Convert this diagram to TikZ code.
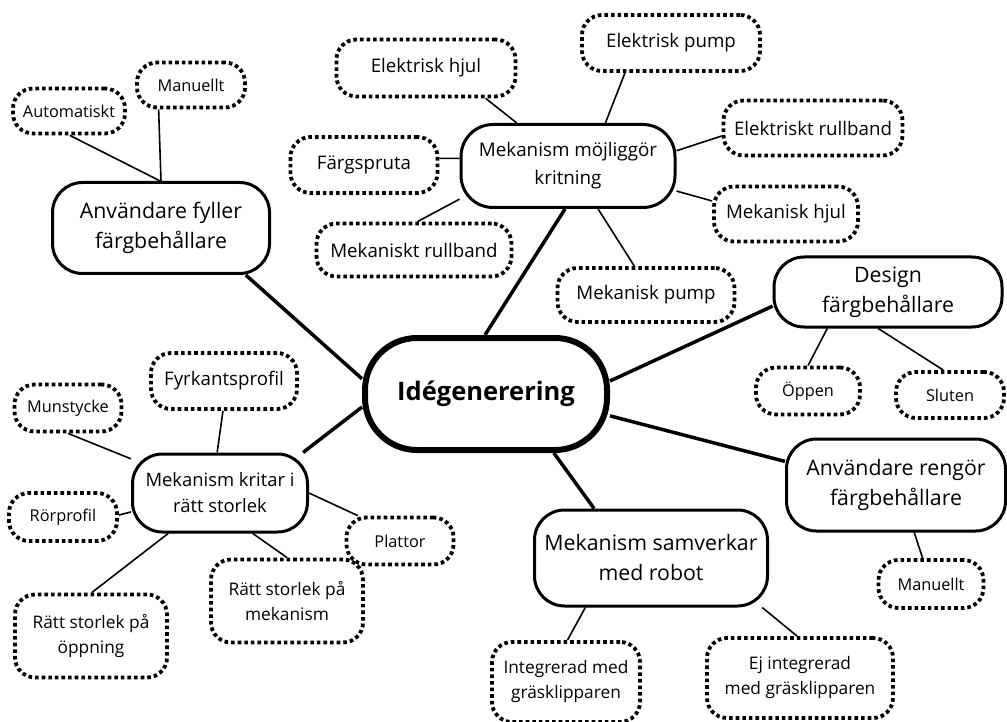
\documentclass[tikz,border=0pt]{standalone}
\usepackage{fontspec}
\setmainfont{Open Sans}
\begin{document}
\begin{tikzpicture}[x=1pt,y=-1pt,
  main/.style={draw, line width=3pt, rounded corners=30pt, align=center, inner sep=0pt, fill=white, font=\fontsize{21.3}{30}\selectfont},
  hub/.style={draw, line width=6pt, rounded corners=52pt, align=center, inner sep=0pt, fill=white, font=\bfseries\fontsize{25.5}{30}\selectfont},
  leaf/.style={draw, line width=3.8pt, dash pattern=on 3.6pt off 3pt, rounded corners=20pt, align=center, inner sep=0pt, fill=white},
  big/.style={font=\fontsize{18.7}{26}\selectfont},
  mid/.style={font=\fontsize{17.3}{25}\selectfont},
  small/.style={font=\fontsize{16.3}{20}\selectfont},
  thick link/.style={line width=3.5pt},
  thin link/.style={line width=1.6pt}
]
\useasboundingbox (0,0) rectangle (1007,722);

% hub
\node[hub, minimum width=242pt, minimum height=112pt] (cen) at (486,394) {Idégenerering};

% main nodes
\node[main, minimum width=214pt, minimum height=83pt, rounded corners=32pt, font=\fontsize{18.8}{28}\selectfont] (moj) at (568,166) {Mekanism möjliggör\\kritning};
\node[main, minimum width=217pt, minimum height=91pt] (fyll) at (161,228) {Användare fyller\\färgbehållare};
\node[main, minimum width=228pt, minimum height=70pt] (des) at (888,292) {Design\\färgbehållare};
\node[main, minimum width=219pt, minimum height=92pt] (ren) at (896,485) {Användare rengör\\färgbehållare};
\node[main, minimum width=233pt, minimum height=96pt] (sam) at (651,558) {Mekanism samverkar\\med robot};
\node[main, minimum width=175pt, minimum height=78pt, font=\fontsize{18.4}{26}\selectfont] (kri) at (220,493) {Mekanism kritar i\\rätt storlek};

% leaves
\node[leaf, small, minimum width=112pt, minimum height=45pt] (aut) at (69,111) {Automatiskt};
\node[leaf, small, minimum width=108pt, minimum height=45pt] (man1) at (191,85) {Manuellt};
\node[leaf, big, minimum width=179pt, minimum height=57pt] (ehj) at (426,68) {Elektrisk hjul};
\node[leaf, big, minimum width=178pt, minimum height=56pt] (epu) at (671,43) {Elektrisk pump};
\node[leaf, big, minimum width=147pt, minimum height=56pt] (fsp) at (364,165) {Färgspruta};
\node[leaf, big, minimum width=195pt, minimum height=53pt] (mrb) at (414,250) {Mekaniskt rullband};
\node[leaf, big, minimum width=177pt, minimum height=54pt] (mpu) at (646,295) {Mekanisk pump};
\node[leaf, big, minimum width=179pt, minimum height=55pt] (erb) at (813,128) {Elektriskt rullband};
\node[leaf, big, minimum width=144pt, minimum height=55pt] (mhj) at (786,214) {Mekanisk hjul};
\node[leaf, small, minimum width=104pt, minimum height=47pt] (opp) at (808,391) {Öppen};
\node[leaf, small, minimum width=108pt, minimum height=46pt] (slu) at (950,395) {Sluten};
\node[leaf, small, minimum width=105pt, minimum height=48pt] (man2) at (931,584) {Manuellt};
\node[leaf, mid, minimum width=148pt, minimum height=80pt] (int) at (566,682) {Integrerad med\\gräsklipparen};
\node[leaf, mid, minimum width=186pt, minimum height=80pt] (ejint) at (800,678) {Ej integrerad\\med gräsklipparen};
\node[leaf, big, minimum width=146pt, minimum height=56pt] (fyr) at (224,381) {Fyrkantsprofil};
\node[leaf, small, minimum width=107pt, minimum height=47pt] (mun) at (68,408) {Munstycke};
\node[leaf, small, minimum width=108pt, minimum height=48pt] (ror) at (63,517) {Rörprofil};
\node[leaf, small, minimum width=107pt, minimum height=47pt] (pla) at (400,541) {Plattor};
\node[leaf, mid, minimum width=152pt, minimum height=83pt] (rsm) at (287,601) {Rätt storlek på\\mekanism};
\node[leaf, mid, minimum width=152pt, minimum height=83pt] (rso) at (91,636) {Rätt storlek på\\öppning};

% thick connectors from hub
\draw[thick link] (cen.173) -- (fyll.-29);
\draw[thick link] (cen.91) -- (moj.-94);
\draw[thick link] (cen.6) -- (des.187);
\draw[thick link] (cen.-10) -- (ren.168);
\draw[thick link] (cen.-41) -- (sam.139);
\draw[thick link] (cen.186) -- (kri.26);

% thin connectors
\draw[thin link] (fyll.90) -- (man1.217);
\draw[thin link] (fyll.91) -- (aut.272);
\draw[thin link] (moj.140) -- (ehj.-27);
\draw[thin link] (moj.49) -- (epu.213);
\draw[thin link] (moj.176) -- (fsp.5);
\draw[thin link] (moj.197) -- (mrb.83);
\draw[thin link] (moj.-55) -- (mpu.112);
\draw[thin link] (moj.8) -- (erb.185);
\draw[thin link] (moj.-13) -- (mhj.170);
\draw[thin link] (des.211) -- (opp.90);
\draw[thin link] (des.255) -- (slu.105);
\draw[thin link] (ren.291) -- (man2.108);
\draw[thin link] (sam.217) -- (int.88);
\draw[thin link] (sam.336) -- (ejint.94);
\draw[thin link] (kri.94) -- (fyr.268);
\draw[thin link] (kri.159) -- (mun.270);
\draw[thin link] (kri.192) -- (ror.2);
\draw[thin link] (kri.0) -- (pla.149);
\draw[thin link] (kri.-51) -- (rsm.90);
\draw[thin link] (kri.218) -- (rso.89);
\end{tikzpicture}
\end{document}
